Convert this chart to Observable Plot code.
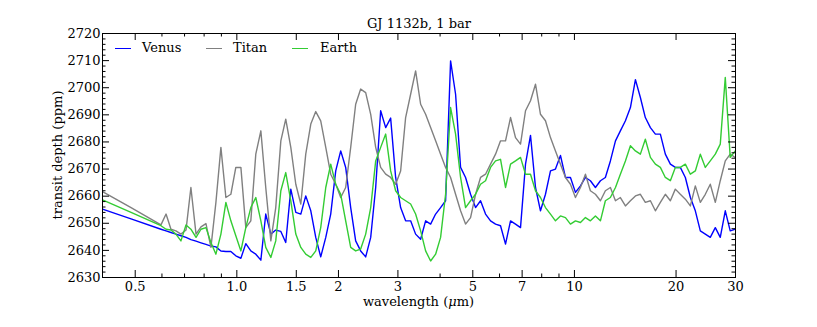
<!DOCTYPE html>
<html>
<head>
<meta charset="utf-8">
<script src="https://cdn.jsdelivr.net/npm/d3@7"></script>
<script src="https://cdn.jsdelivr.net/npm/@observablehq/plot@0.6"></script>
<style>
  html, body { margin: 0; padding: 0; background: #fff; }
  #wrap { position: relative; width: 817px; height: 327px; font-family: "DejaVu Serif", serif; font-size: 13px; color: #000; }
  .leg { position: absolute; top: 40px; height: 16px; line-height: 16px; white-space: nowrap; }
  .sw { position: absolute; top: 7.5px; height: 0; border-top: 1.5px solid; }
  #xlab { position: absolute; left: 0; width: 837px; text-align: center; top: 294px; line-height: 16px; white-space: nowrap; }
  #ylab { position: absolute; left: 58px; top: 155px; width: 0; height: 0; }
  #ylab span { position: absolute; left: 0; top: 0; transform: translate(-50%, -50%) rotate(-90deg); white-space: nowrap; line-height: 16px; }
</style>
</head>
<body>
<div id="wrap"></div>
<script>
// ---------- data ----------
const title = "GJ 1132b, 1 bar";
const yLabel = "transit depth (ppm)";
const seriesNames = ["Venus", "Titan", "Earth"];
const seriesColors = ["#0000ff", "#808080", "#33cc33"];

// wavelength grid (µm)
const wavelength = [0.40, 0.486, 0.596, 0.617, 0.638, 0.660, 0.683, 0.707, 0.731, 0.757,
  0.783, 0.810, 0.838, 0.867, 0.897, 0.928, 0.960, 0.993, 1.028, 1.063,
  1.100, 1.138, 1.178, 1.218, 1.261, 1.304, 1.350, 1.396, 1.445, 1.495,
  1.547, 1.600, 1.656, 1.713, 1.772, 1.834, 1.897, 1.963, 2.031, 2.101,
  2.174, 2.249, 2.327, 2.408, 2.492, 2.578, 2.667, 2.760, 2.855, 2.954,
  3.056, 3.162, 3.272, 3.385, 3.503, 3.624, 3.750, 3.880, 4.014, 4.153,
  4.297, 4.446, 4.600, 4.759, 4.924, 5.095, 5.271, 5.454, 5.643, 5.839,
  6.041, 6.250, 6.467, 6.691, 6.923, 7.163, 7.411, 7.668, 7.933, 8.208,
  8.493, 8.787, 9.092, 9.407, 9.733, 10.07, 10.42, 10.78, 11.15, 11.54,
  11.94, 12.35, 12.78, 13.23, 13.68, 14.16, 14.65, 15.16, 15.68, 16.22,
  16.79, 17.37, 17.97, 18.59, 19.24, 19.90, 20.59, 21.31, 22.05, 22.81,
  23.60, 24.42, 25.26, 26.14, 27.04, 27.98, 28.94, 29.95];

const venus = [2655.2, 2651.6, 2647.8, 2647.2, 2646.6, 2646.0, 2645.4, 2644.8, 2644.0, 2643.4,
  2642.8, 2642.2, 2641.6, 2641.3, 2639.8, 2639.6, 2639.6, 2638.0, 2637.1, 2642.5,
  2639.8, 2638.6, 2636.4, 2653.4, 2646.0, 2647.5, 2647.0, 2642.9, 2662.6, 2654.0,
  2653.4, 2660.1, 2654.6, 2644.8, 2637.6, 2644.8, 2653.4, 2669.3, 2676.7, 2670.6,
  2655.8, 2643.5, 2639.8, 2637.6, 2644.8, 2663.2, 2691.5, 2685.3, 2688.8, 2666.9,
  2655.8, 2650.9, 2650.9, 2646.0, 2644.1, 2650.9, 2649.7, 2653.4, 2655.8, 2658.3,
  2709.9, 2697.6, 2670.6, 2666.9, 2660.7, 2655.8, 2658.3, 2653.4, 2650.9, 2649.7,
  2649.1, 2642.3, 2650.9, 2649.7, 2648.4, 2671.8, 2682.4, 2663.2, 2654.6, 2660.7,
  2669.3, 2670.0, 2675.0, 2666.9, 2666.9, 2661.4, 2663.8, 2666.9, 2665.7, 2663.2,
  2665.7, 2666.9, 2673.0, 2680.4, 2684.1, 2687.8, 2692.7, 2703.0, 2696.4, 2689.0,
  2685.3, 2682.9, 2682.9, 2675.5, 2671.8, 2670.6, 2670.6, 2666.9, 2659.5, 2654.6,
  2647.2, 2646.0, 2644.8, 2648.4, 2644.8, 2654.6, 2647.2, 2647.8];

const titan = [2661.7, 2655.8, 2649.4, 2653.4, 2647.8, 2647.2, 2646.0, 2647.5, 2663.2, 2646.0,
  2648.7, 2649.9, 2641.1, 2657.7, 2678.0, 2659.5, 2660.7, 2670.6, 2670.6, 2648.4,
  2650.9, 2675.5, 2684.1, 2663.2, 2643.5, 2655.8, 2680.4, 2688.4, 2678.0, 2664.4,
  2657.1, 2675.5, 2686.6, 2691.2, 2687.8, 2678.0, 2668.1, 2664.4, 2659.5, 2663.2,
  2678.0, 2693.9, 2699.5, 2698.2, 2690.2, 2678.0, 2670.6, 2668.1, 2666.9, 2664.4,
  2669.3, 2689.0, 2697.6, 2706.2, 2693.9, 2690.2, 2685.3, 2680.4, 2675.5, 2670.6,
  2666.9, 2660.7, 2654.6, 2649.7, 2652.1, 2660.7, 2666.9, 2668.1, 2671.8, 2675.5,
  2680.4, 2680.4, 2689.0, 2681.6, 2679.2, 2691.5, 2695.2, 2701.3, 2690.2, 2687.8,
  2681.6, 2676.7, 2671.8, 2666.9, 2664.4, 2659.5, 2663.2, 2668.1, 2662.0, 2660.7,
  2658.3, 2662.0, 2663.2, 2658.3, 2659.5, 2656.4, 2658.3, 2660.1, 2660.7, 2657.7,
  2658.3, 2654.6, 2657.7, 2660.7, 2658.3, 2662.6, 2660.7, 2658.9, 2656.4, 2663.8,
  2657.7, 2660.7, 2664.4, 2657.7, 2665.7, 2673.0, 2675.5, 2674.3];

const earth = [2658.6, 2654.0, 2649.1, 2647.8, 2647.5, 2646.0, 2643.5, 2649.4, 2647.8, 2644.8,
  2647.8, 2648.4, 2642.9, 2638.6, 2646.0, 2657.7, 2650.9, 2645.4, 2639.8, 2648.4,
  2655.8, 2659.5, 2650.9, 2641.1, 2637.4, 2643.5, 2662.0, 2668.7, 2658.3, 2646.0,
  2641.1, 2638.6, 2637.4, 2639.8, 2648.4, 2663.2, 2671.8, 2664.4, 2660.7, 2650.9,
  2641.1, 2639.8, 2640.5, 2646.0, 2655.8, 2673.0, 2678.0, 2682.9, 2669.3, 2662.0,
  2659.5, 2658.3, 2657.1, 2653.4, 2647.2, 2639.8, 2636.1, 2638.6, 2644.8, 2660.7,
  2692.7, 2682.9, 2666.9, 2655.8, 2658.3, 2660.7, 2664.4, 2665.7, 2670.6, 2673.0,
  2673.6, 2663.2, 2671.8, 2673.0, 2674.3, 2668.1, 2668.1, 2662.0, 2659.5, 2655.8,
  2653.4, 2650.9, 2652.7, 2652.1, 2649.7, 2650.9, 2650.3, 2652.1, 2650.9, 2652.7,
  2650.9, 2658.3, 2659.5, 2663.2, 2668.1, 2673.0, 2678.6, 2676.7, 2675.5, 2681.0,
  2674.3, 2671.8, 2670.6, 2666.9, 2665.7, 2670.6, 2670.6, 2671.8, 2668.1, 2669.3,
  2675.5, 2670.6, 2673.0, 2675.5, 2679.2, 2703.8, 2674.3, 2676.7];

// axis ticks
const xMajor = [0.5, 1, 1.5, 2, 3, 5, 7, 10, 20, 30];
const xTickLabels = ["0.5", "1.0", "1.5", "2", "3", "5", "7", "10", "20", "30"];
const xMinor = [0.6, 0.7, 0.8, 0.9, 4, 6, 8, 9];
const yMajor = [2630, 2640, 2650, 2660, 2670, 2680, 2690, 2700, 2710, 2720];
const yMinor = [2632, 2634, 2636, 2638, 2642, 2644, 2646, 2648, 2652, 2654, 2656, 2658,
  2662, 2664, 2666, 2668, 2672, 2674, 2676, 2678, 2682, 2684, 2686, 2688,
  2692, 2694, 2696, 2698, 2702, 2704, 2706, 2708, 2712, 2714, 2716, 2718];

// ---------- build ----------
const seriesValues = [venus, titan, earth];
const rows = [];
seriesNames.forEach((name, s) => {
  wavelength.forEach((wl, i) => rows.push({name, wl, v: seriesValues[s][i]}));
});

const W = 817, H = 327, mL = 102, mR = 82, mT = 33, mB = 50;
const fw = W - mL - mR, fh = H - mT - mB;
const majLen = 7, minLen = 3.5;

const chart = Plot.plot({
  width: W, height: H,
  marginLeft: mL, marginRight: mR, marginTop: mT, marginBottom: mB,
  style: {fontFamily: "'DejaVu Serif', serif", fontSize: "13px", color: "#000", background: "#fff", overflow: "visible"},
  x: {type: "log", domain: [0.4, 30], axis: null},
  y: {domain: [2630, 2720], axis: null},
  marks: [
    ...seriesNames.map((name, s) => Plot.line(rows.filter(r => r.name === name), {
      x: "wl", y: "v", stroke: seriesColors[s], strokeWidth: 1.4, clip: true
    })),
    Plot.frame({stroke: "#000", strokeWidth: 1}),
    // inward ticks: bottom/top
    Plot.ruleX(xMajor, {insetTop: fh - majLen, stroke: "#000"}),
    Plot.ruleX(xMajor, {insetBottom: fh - majLen, stroke: "#000"}),
    Plot.ruleX(xMinor, {insetTop: fh - minLen, stroke: "#000"}),
    Plot.ruleX(xMinor, {insetBottom: fh - minLen, stroke: "#000"}),
    // inward ticks: left/right
    Plot.ruleY(yMajor, {insetRight: fw - majLen, stroke: "#000"}),
    Plot.ruleY(yMajor, {insetLeft: fw - majLen, stroke: "#000"}),
    Plot.ruleY(yMinor, {insetRight: fw - minLen, stroke: "#000"}),
    Plot.ruleY(yMinor, {insetLeft: fw - minLen, stroke: "#000"}),
    // tick labels
    Plot.text(xMajor, {x: d => d, text: (d, i) => xTickLabels[i], frameAnchor: "bottom",
      lineAnchor: "top", dy: 4, fontSize: 13, fill: "#000"}),
    Plot.text(yMajor, {y: d => d, text: d => String(d), frameAnchor: "left",
      textAnchor: "end", dx: -2, fontSize: 13, fill: "#000"}),
    Plot.text([title], {frameAnchor: "top", dy: -15, fontSize: 13, fill: "#000"})
  ]
});

const wrap = document.getElementById("wrap");
wrap.appendChild(chart);

// legend (HTML overlay, top-left inside the frame)
const legendPos = [{sw: 114.5, tx: 142}, {sw: 205.5, tx: 233}, {sw: 292, tx: 320}];
seriesNames.forEach((name, s) => {
  const sw = document.createElement("div");
  sw.className = "leg";
  sw.style.left = legendPos[s].sw + "px";
  sw.innerHTML = `<div class="sw" style="left:0;width:16px;border-color:${seriesColors[s]}"></div>`;
  wrap.appendChild(sw);
  const tx = document.createElement("div");
  tx.className = "leg";
  tx.style.left = legendPos[s].tx + "px";
  tx.textContent = name;
  wrap.appendChild(tx);
});

const xl = document.createElement("div");
xl.id = "xlab";
xl.innerHTML = 'wavelength (<i>μ</i>m)';
wrap.appendChild(xl);

const yl = document.createElement("div");
yl.id = "ylab";
yl.innerHTML = `<span>${yLabel}</span>`;
wrap.appendChild(yl);
</script>
</body>
</html>
